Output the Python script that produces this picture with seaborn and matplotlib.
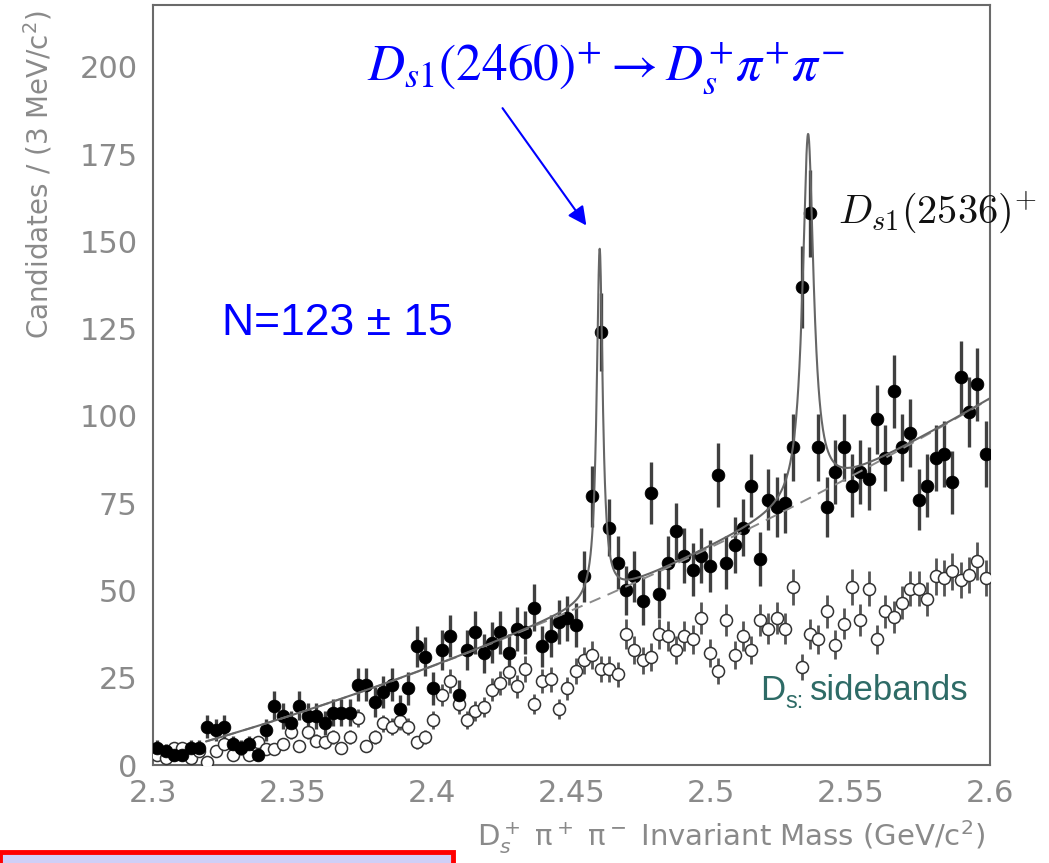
import numpy as np
import pandas as pd
import seaborn as sns
import matplotlib.pyplot as plt
from matplotlib.patches import Rectangle
from matplotlib.ticker import MultipleLocator
from matplotlib.transforms import offset_copy

# 3 MeV bins from 2.3 to 2.6 GeV
mass_lo = 2.3
mass_hi = 2.6
bin_width = 0.003

signal_counts = [5, 4, 3, 3, 5, 5, 11, 10, 11, 6,
                 5, 6, 3, 10, 17, 14, 12, 17, 14, 14,
                 12, 15, 15, 15, 23, 23, 18, 21, 23, 16,
                 22, 34, 31, 22, 33, 37, 20, 33, 38, 32,
                 35, 38, 32, 39, 38, 45, 34, 37, 41, 42,
                 40, 54, 77, 124, 68, 58, 50, 54, 47, 78,
                 49, 58, 67, 60, 56, 60, 57, 83, 58, 63,
                 68, 80, 59, 76, 74, 75, 91, 137, 158, 91,
                 74, 84, 91, 80, 84, 82, 99, 88, 107, 91,
                 95, 76, 80, 88, 89, 81, 111, 101, 109, 89]

sideband_counts = [3, 2, 5, 5, 2, 4, 1, 4, 6, 3,
                   5, 3, 6.5, 4.5, 4.5, 6, 9.5, 5.5, 9.5, 7,
                   6.5, 8, 5, 8, 13.5, 5.5, 8, 12, 11, 12.5,
                   11, 6.5, 8, 13, 20, 24, 17.5, 13, 15.5, 16.5,
                   21.5, 23.5, 26.5, 22.5, 27.5, 17.5, 24, 24.5, 16, 22,
                   27, 30, 31.5, 27.5, 27.5, 26, 37.5, 33, 30, 31,
                   37.5, 37, 33, 37, 36, 42, 32, 27, 41.5, 31.5,
                   37, 33, 41.5, 39, 42, 39, 51, 28, 37.5, 36,
                   44, 34.5, 40.5, 51, 41.5, 50.5, 36, 44, 42.5, 46.5,
                   50.5, 50.5, 47.5, 54, 53.5, 55.5, 53, 54.5, 58.5, 53.5]

# fit: background read at a few masses, two resonances on top
bkg_mass = [2.32, 2.36, 2.42, 2.45, 2.50, 2.55, 2.60]
bkg_level = [7, 16.5, 35, 45, 61, 83, 105]
peak_mass = [2.4601, 2.5348]
peak_height = [100, 104.5]
peak_width = [0.0026, 0.0048]
fit_start = 2.319

centers = mass_lo + bin_width * (np.arange(len(signal_counts)) + 0.5)
df = pd.DataFrame({'mass': centers,
                   'signal': signal_counts,
                   'sideband': sideband_counts})
df['sig_err'] = np.sqrt(df['signal'])
df['sb_err'] = np.sqrt(df['sideband'] / 2)

coef = np.polyfit(bkg_mass, bkg_level, 2)
fx = np.linspace(fit_start, mass_hi, 3000)
bkg = np.polyval(coef, fx)
total = bkg.copy()
for m, h, w in zip(peak_mass, peak_height, peak_width):
    total += h / (1 + ((fx - m) / (w / 2)) ** 2)
fit = pd.DataFrame({'mass': fx, 'total': total, 'bkg': bkg})

sns.set_theme(style='white')
plt.rcParams['font.family'] = ['DejaVu Sans']

gray = '#8a8a8a'
fig = plt.figure(figsize=(10.49, 8.63), dpi=100)
ax = fig.add_axes([153 / 1049, 1 - 765 / 863, 837 / 1049, 760 / 863])

ax.errorbar(df['mass'], df['sideband'], yerr=df['sb_err'], fmt='none',
            ecolor='#555555', elinewidth=2.0, capsize=0, zorder=2)
ax.errorbar(df['mass'], df['signal'], yerr=df['sig_err'], fmt='none',
            ecolor='#404040', elinewidth=2.4, capsize=0, zorder=2)

sns.scatterplot(data=df, x='mass', y='sideband', ax=ax, s=75, marker='o',
                facecolor='white', edgecolor='#333333', linewidth=1.1, zorder=3)
sns.scatterplot(data=df, x='mass', y='signal', ax=ax, s=85, marker='o',
                color='black', edgecolor='black', linewidth=0.5, zorder=4)

sns.lineplot(data=fit, x='mass', y='bkg', ax=ax, color='#8a8a8a', lw=1.4,
             linestyle=(0, (6, 4)), zorder=5)
sns.lineplot(data=fit, x='mass', y='total', ax=ax, color='#666666', lw=1.5,
             zorder=6)

ax.set_xlim(mass_lo, mass_hi)
ax.set_ylim(0, 217.7)
ax.xaxis.set_minor_locator(MultipleLocator(0.01))
ax.yaxis.set_major_locator(MultipleLocator(25))
ax.yaxis.set_minor_locator(MultipleLocator(5))
ax.set_xticks(np.arange(2.3, 2.6001, 0.05))
ax.set_xticklabels(['2.3', '2.35', '2.4', '2.45', '2.5', '2.55', '2.6'])

ax.tick_params(axis='both', which='both', direction='in', colors='#666666',
               labelcolor=gray, labelsize=22, width=1.3)
ax.tick_params(axis='y', which='major', length=16, pad=11)
ax.tick_params(axis='y', which='minor', length=8.5)
ax.tick_params(axis='x', which='major', length=14, pad=10)
ax.tick_params(axis='x', which='minor', length=7)
for sp in ax.spines.values():
    sp.set_color('#6a6a6a')
    sp.set_linewidth(1.5)

ax.set_xlabel(r'D$_s^+$ π$^+$ π$^-$ Invariant Mass (GeV/c$^2$)', color=gray,
              fontsize=21, loc='right')
ax.xaxis.set_label_coords(0.994, -0.07)
ax.set_ylabel(r'Candidates / (3 MeV/c$^2$)', color=gray, fontsize=20, loc='top')
ax.yaxis.set_label_coords(-0.118, 0.993)

ax.text(2.4624, 199.6, r'$D_{s1}(2460)^{+} \rightarrow D_{s}^{+}\pi^{+}\pi^{-}$',
        color='#0000ff', fontsize=37, ha='center', va='center',
        math_fontfamily='stix')
ax.annotate('', xy=(2.4559, 153.9), xytext=(2.4247, 188.8),
            arrowprops=dict(arrowstyle='-|>', color='#0000ff', lw=1.5,
                            mutation_scale=28))
ax.text(2.3247, 126.6, 'N=123 ± 15', color='#0000ff', fontsize=32,
        ha='left', va='center', family=['Liberation Sans', 'DejaVu Sans'])
ax.text(2.5455, 155, r'$D_{s1}(2536)^{+}$', color='#111111', fontsize=29,
        ha='left', va='baseline', math_fontfamily='cm', clip_on=False)

teal = '#2e6b66'
sb_font = ['Liberation Sans', 'DejaVu Sans']
ax.text(2.5176, 18.6, 'D', color=teal, fontsize=25, ha='left', va='baseline',
        family=sb_font)
ax.text(2.5176, 18.6, 's:', color=teal, fontsize=17, ha='left', va='baseline',
        family=sb_font,
        transform=offset_copy(ax.transData, fig=fig, x=18, y=-6, units='points'))
ax.text(2.5354, 18.6, 'sidebands', color=teal, fontsize=25, ha='left',
        va='baseline', family=sb_font)

fig.patches.append(Rectangle((0, -0.01), 453 / 1049, 0.01 + 11 / 863,
                             transform=fig.transFigure, facecolor='#cfcff7',
                             edgecolor='#ff0000', lw=3.5, zorder=10))

fig.savefig('out.png', dpi=100)
